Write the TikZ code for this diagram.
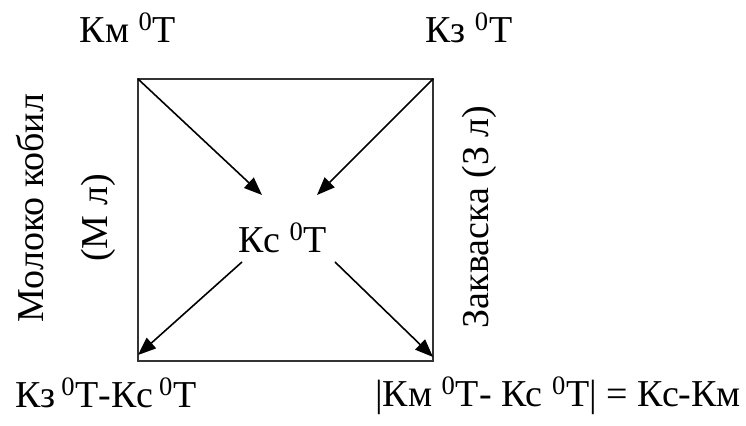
\documentclass[tikz,border=0pt]{standalone}
\usepackage{fontspec}
\setmainfont{Liberation Serif}
\usetikzlibrary{arrows.meta}

\begin{document}
\begin{tikzpicture}[
    x=0.5pt, y=-0.5pt,
    lbl/.style={inner sep=0pt, anchor=base, font=\fontsize{19}{23}\selectfont},
    side/.style={lbl, rotate=90},
    arrow/.style={-{Triangle[length=9pt, width=7pt]}, line width=0.8pt},
    frame/.style={line width=0.8pt, draw=black!80}
  ]
    \useasboundingbox (0,0) rectangle (746,426);

    % corners of the square
    \coordinate (tl) at (138,79);
    \coordinate (tr) at (433,79);
    \coordinate (bl) at (138,361);
    \coordinate (br) at (433,361);
    \draw[frame] (tl) -- (tr) -- (br) -- (bl) -- cycle;

    \node[lbl] (km) at (128,43) {Км \textsuperscript{0}Т};
    \node[lbl] (kz) at (469,43) {Кз \textsuperscript{0}Т};
    \node[lbl] (kc) at (283,253) {Кс \textsuperscript{0}Т};
    \node[lbl] (diffl) at (106,408) {Кз\,\textsuperscript{0}Т-Кс\,\textsuperscript{0}Т};
    \node[lbl] (diffr) at (558,407) {|Км \textsuperscript{0}Т- Кс \textsuperscript{0}Т| = Кс-Км};

    \node[side] (milk) at (43,208) {Молоко кобил};
    \node[side] (mvol) at (107,218) {(М л)};
    \node[side] (starter) at (488,217) {Закваска (З л)};

    % arrow ends round the middle
    \coordinate (inl) at (262,195);
    \coordinate (inr) at (317,195);
    \coordinate (outl) at (242,262);
    \coordinate (outr) at (335,262);
    \coordinate (endl) at (138,355);
    \coordinate (endr) at (433,357);

    \draw[arrow] (tl) -- (inl);
    \draw[arrow] (tr) -- (inr);
    \draw[arrow] (outl) -- (endl);
    \draw[arrow] (outr) -- (endr);
  \end{tikzpicture}
\end{document}
